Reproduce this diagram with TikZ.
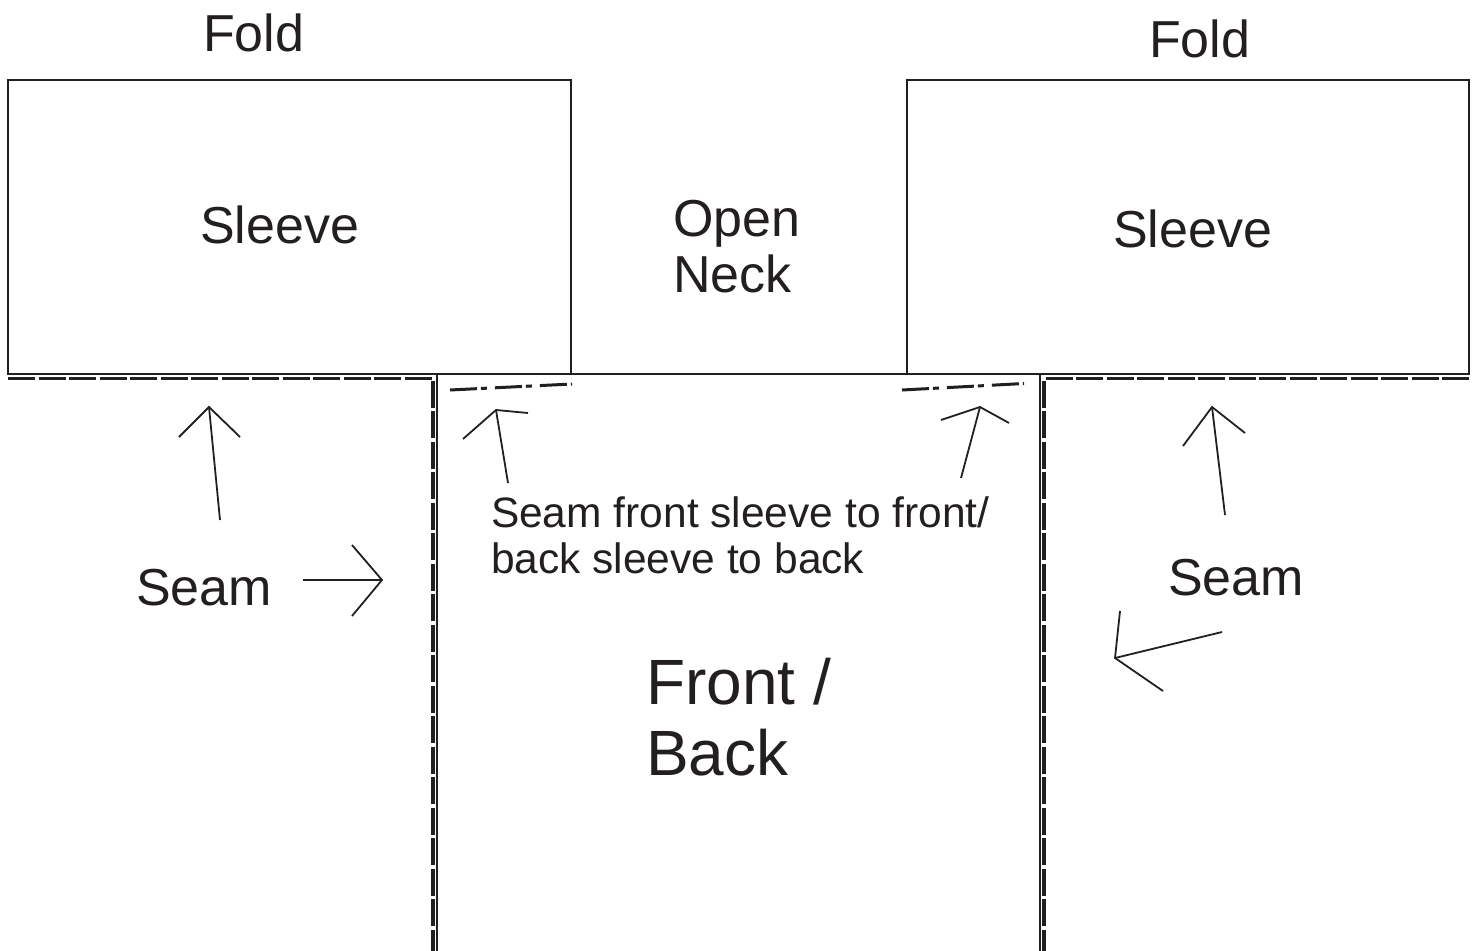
\documentclass[tikz,border=0pt]{standalone}
\usepackage{fontspec}
\setmainfont{Liberation Sans}
\definecolor{ink}{HTML}{231F20}
\begin{document}
\begin{tikzpicture}[x=1pt,y=-1pt,
  outline/.style={draw=ink,line width=2.2pt},
  seamline/.style={draw=ink,line width=3.4pt,dash pattern=on 27pt off 3.5pt},
  stitch/.style={draw=ink,line width=3pt,dash pattern=on 27pt off 4pt on 6pt off 8pt},
  pointer/.style={draw=ink,line width=1.8pt,line join=miter},
  lbl/.style={anchor=base west,inner sep=0pt,outer sep=0pt,text=ink,align=left},
  big/.style={lbl,font=\fontsize{52}{56}\selectfont},
  mid/.style={lbl,font=\fontsize{42.5}{46}\selectfont},
  huge/.style={lbl,font=\fontsize{64}{71}\selectfont}]
\useasboundingbox (0,0) rectangle (1479,950);
% sleeves
\draw[outline] (8,80) rectangle (571,374);
\draw[outline] (907,80) rectangle (1469,374);
% body
\draw[outline] (571,374) -- (907,374);
\draw[outline] (437,374) -- (571,374);
\draw[outline] (907,374) -- (1040,374);
\draw[outline] (437,374) -- (437,952);
\draw[outline] (1040,374) -- (1040,952);
% seam lines
\draw[seamline] (8,378.5) -- (433,378.5) -- (433,952);
\draw[seamline] (1469,378.5) -- (1044,378.5) -- (1044,952);
% stitch lines
\draw[stitch] (450,390) -- (572,384);
\draw[stitch] (902,390) -- (1024,383.5);
% labels (multi-line nodes: base is the last line's baseline)
\node[big] (fold1) at (203,52) {Fold};
\node[big] (fold2) at (1149,58) {Fold};
\node[big] (sleeve1) at (200,243) {Sleeve};
\node[big] (sleeve2) at (1113,247) {Sleeve};
\node[big] (neck) at (673,292) {Open\\Neck};
\node[big] (seam1) at (136,605) {Seam};
\node[big] (seam2) at (1168,595) {Seam};
\node[mid] (seamtxt) at (491,573) {Seam front sleeve to front/\\back sleeve to back};
\node[huge] (body) at (646,775) {Front /\\Back};
% arrows
\coordinate (a1t) at (220,520); \coordinate (a1p) at (209,407);
\coordinate (a1l) at (179,437); \coordinate (a1r) at (240,437);
\draw[pointer] (a1t) -- (a1p);
\draw[pointer] (a1l) -- (a1p) -- (a1r);
\coordinate (a2t) at (303,580); \coordinate (a2p) at (382,580);
\coordinate (a2l) at (352,545); \coordinate (a2r) at (352,616);
\draw[pointer] (a2t) -- (a2p);
\draw[pointer] (a2l) -- (a2p) -- (a2r);
\coordinate (a3t) at (508,483); \coordinate (a3p) at (496,410);
\coordinate (a3l) at (463,439); \coordinate (a3r) at (528,413);
\draw[pointer] (a3t) -- (a3p);
\draw[pointer] (a3l) -- (a3p) -- (a3r);
\coordinate (a4t) at (961,478); \coordinate (a4p) at (980,407);
\coordinate (a4l) at (941,420); \coordinate (a4r) at (1009,423);
\draw[pointer] (a4t) -- (a4p);
\draw[pointer] (a4l) -- (a4p) -- (a4r);
\coordinate (a5t) at (1225,515); \coordinate (a5p) at (1212,407);
\coordinate (a5l) at (1183,446); \coordinate (a5r) at (1245,433);
\draw[pointer] (a5t) -- (a5p);
\draw[pointer] (a5l) -- (a5p) -- (a5r);
\coordinate (a6t) at (1222,632); \coordinate (a6p) at (1115,658);
\coordinate (a6l) at (1120,611); \coordinate (a6r) at (1163,691);
\draw[pointer] (a6t) -- (a6p);
\draw[pointer] (a6l) -- (a6p) -- (a6r);
\end{tikzpicture}
\end{document}
